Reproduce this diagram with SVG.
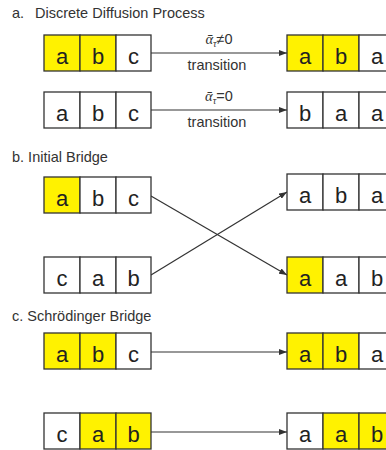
<svg xmlns="http://www.w3.org/2000/svg" width="386" height="450" viewBox="0 0 386 450">
<defs>
<style>
.title{font-family:"Liberation Sans",Arial,sans-serif;font-size:14.5px;fill:#333}
.cell{stroke:#333;stroke-width:1.3;fill:#fff}
.y{fill:#fff200}
.ch{font-family:"Liberation Sans",Arial,sans-serif;font-size:22px;fill:#222;text-anchor:middle}
.lbl{font-family:"Liberation Sans",Arial,sans-serif;font-size:14.5px;fill:#333;text-anchor:middle}
.gr{font-family:"Liberation Serif","DejaVu Serif",serif;font-style:italic}
.conn{stroke:#333;stroke-width:1.2;fill:none}
</style>
<marker id="ah" viewBox="0 0 8 6" refX="8" refY="3" markerWidth="8" markerHeight="6" markerUnits="userSpaceOnUse" orient="auto">
<path d="M0,0 L8,3 L0,6 Z" fill="#333"/>
</marker>
</defs>
<rect width="386" height="450" fill="#fff"/>

<text class="title" x="12" y="18">a.<tspan x="35">Discrete Diffusion Process</tspan></text>
<text class="title" x="12" y="162">b. Initial Bridge</text>
<text class="title" x="12" y="321">c. Schrödinger Bridge</text>

<g id="connectors">
<line class="conn" x1="151" y1="53" x2="287" y2="53" marker-end="url(#ah)"/>
<line class="conn" x1="151" y1="110" x2="287" y2="110" marker-end="url(#ah)"/>
<line class="conn" x1="151" y1="196" x2="287" y2="275" marker-end="url(#ah)"/>
<line class="conn" x1="151" y1="275" x2="287" y2="192" marker-end="url(#ah)"/>
<line class="conn" x1="151" y1="352" x2="287" y2="352" marker-end="url(#ah)"/>
<line class="conn" x1="151" y1="432" x2="287" y2="432" marker-end="url(#ah)"/>
<text class="lbl" x="219" y="44"><tspan class="gr">ᾱ</tspan><tspan class="gr" font-size="10" dy="3">τ</tspan><tspan dy="-3">≠0</tspan></text>
<text class="lbl" x="217" y="70">transition</text>
<text class="lbl" x="219" y="101"><tspan class="gr">ᾱ</tspan><tspan class="gr" font-size="10" dy="3">τ</tspan><tspan dy="-3">=0</tspan></text>
<text class="lbl" x="217" y="127">transition</text>
</g>

<g id="a1-left" transform="translate(44,35)">
<rect class="cell y" x="0" y="0" width="36" height="36"/><rect class="cell y" x="36" y="0" width="36" height="36"/><rect class="cell" x="72" y="0" width="35" height="36"/>
<text class="ch" x="18" y="29">a</text><text class="ch" x="54" y="29">b</text><text class="ch" x="89.5" y="29">c</text>
</g>
<g id="a1-right" transform="translate(287,35)">
<rect class="cell y" x="0" y="0" width="36" height="36"/><rect class="cell y" x="36" y="0" width="36" height="36"/><rect class="cell" x="72" y="0" width="36" height="36"/>
<text class="ch" x="18" y="29">a</text><text class="ch" x="54" y="29">b</text><text class="ch" x="90" y="29">a</text>
</g>
<g id="a2-left" transform="translate(44,92)">
<rect class="cell" x="0" y="0" width="36" height="36"/><rect class="cell" x="36" y="0" width="36" height="36"/><rect class="cell" x="72" y="0" width="35" height="36"/>
<text class="ch" x="18" y="29">a</text><text class="ch" x="54" y="29">b</text><text class="ch" x="89.5" y="29">c</text>
</g>
<g id="a2-right" transform="translate(287,92)">
<rect class="cell" x="0" y="0" width="36" height="36"/><rect class="cell" x="36" y="0" width="36" height="36"/><rect class="cell" x="72" y="0" width="36" height="36"/>
<text class="ch" x="18" y="29">b</text><text class="ch" x="54" y="29">a</text><text class="ch" x="90" y="29">a</text>
</g>

<g id="b1-left" transform="translate(44,177)">
<rect class="cell y" x="0" y="0" width="36" height="36"/><rect class="cell" x="36" y="0" width="36" height="36"/><rect class="cell" x="72" y="0" width="35" height="36"/>
<text class="ch" x="18" y="29">a</text><text class="ch" x="54" y="29">b</text><text class="ch" x="89.5" y="29">c</text>
</g>
<g id="b1-right" transform="translate(287,174)">
<rect class="cell" x="0" y="0" width="36" height="36"/><rect class="cell" x="36" y="0" width="36" height="36"/><rect class="cell" x="72" y="0" width="36" height="36"/>
<text class="ch" x="18" y="29">a</text><text class="ch" x="54" y="29">b</text><text class="ch" x="90" y="29">a</text>
</g>
<g id="b2-left" transform="translate(44,257)">
<rect class="cell" x="0" y="0" width="36" height="36"/><rect class="cell" x="36" y="0" width="36" height="36"/><rect class="cell" x="72" y="0" width="35" height="36"/>
<text class="ch" x="18" y="29">c</text><text class="ch" x="54" y="29">a</text><text class="ch" x="89.5" y="29">b</text>
</g>
<g id="b2-right" transform="translate(287,257)">
<rect class="cell y" x="0" y="0" width="36" height="36"/><rect class="cell" x="36" y="0" width="36" height="36"/><rect class="cell" x="72" y="0" width="36" height="36"/>
<text class="ch" x="18" y="29">a</text><text class="ch" x="54" y="29">a</text><text class="ch" x="90" y="29">b</text>
</g>

<g id="c1-left" transform="translate(44,333)">
<rect class="cell y" x="0" y="0" width="36" height="36"/><rect class="cell y" x="36" y="0" width="36" height="36"/><rect class="cell" x="72" y="0" width="35" height="36"/>
<text class="ch" x="18" y="29">a</text><text class="ch" x="54" y="29">b</text><text class="ch" x="89.5" y="29">c</text>
</g>
<g id="c1-right" transform="translate(287,333)">
<rect class="cell y" x="0" y="0" width="36" height="36"/><rect class="cell y" x="36" y="0" width="36" height="36"/><rect class="cell" x="72" y="0" width="36" height="36"/>
<text class="ch" x="18" y="29">a</text><text class="ch" x="54" y="29">b</text><text class="ch" x="90" y="29">a</text>
</g>
<g id="c2-left" transform="translate(44,413)">
<rect class="cell" x="0" y="0" width="36" height="36"/><rect class="cell y" x="36" y="0" width="36" height="36"/><rect class="cell y" x="72" y="0" width="35" height="36"/>
<text class="ch" x="18" y="29">c</text><text class="ch" x="54" y="29">a</text><text class="ch" x="89.5" y="29">b</text>
</g>
<g id="c2-right" transform="translate(287,413)">
<rect class="cell" x="0" y="0" width="36" height="36"/><rect class="cell y" x="36" y="0" width="36" height="36"/><rect class="cell y" x="72" y="0" width="36" height="36"/>
<text class="ch" x="18" y="29">a</text><text class="ch" x="54" y="29">a</text><text class="ch" x="90" y="29">b</text>
</g>
</svg>
